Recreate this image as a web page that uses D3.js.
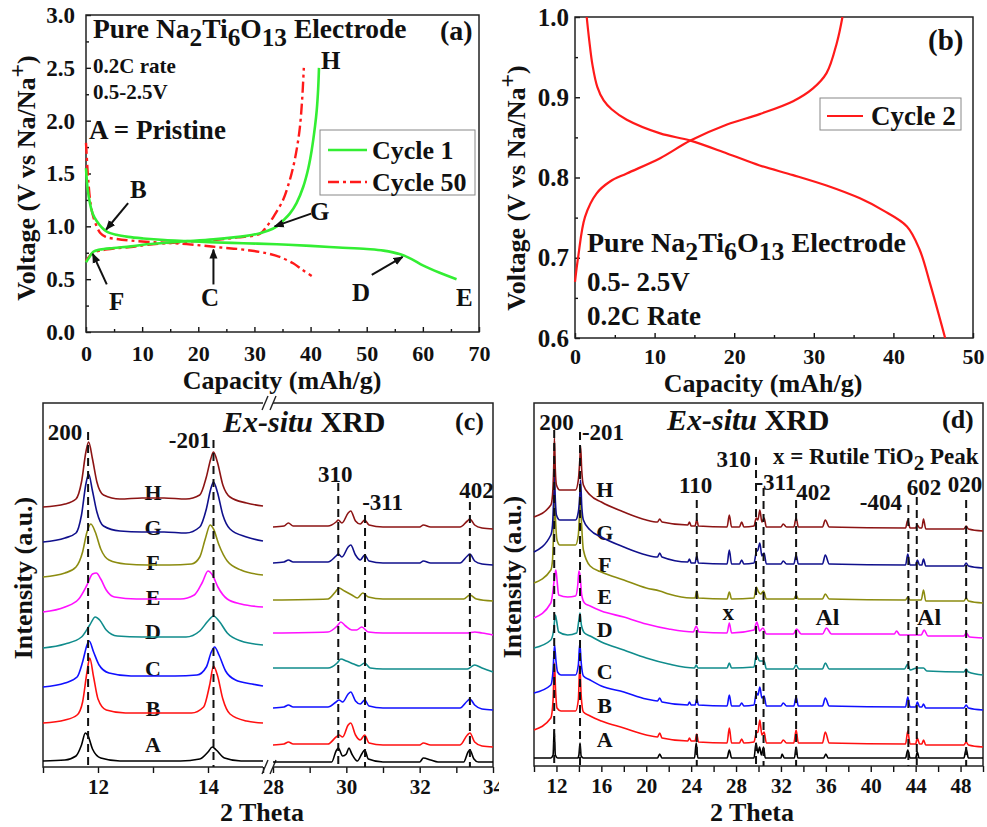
<!DOCTYPE html>
<html>
<head>
<meta charset="utf-8">
<script src="https://cdn.jsdelivr.net/npm/d3@7/dist/d3.min.js"></script>
<style>
  body { margin: 0; background: #fff; }
  svg text { font-family: "Liberation Serif", "Times New Roman", serif; font-weight: bold; fill: #111; }
</style>
</head>
<body>
<svg id="fig" width="987" height="827"></svg>
<script>
// ---------- panel (a): voltage profiles, [capacity mAh/g, voltage V] ----------
const cycle1Discharge = [[0,1.55],[0.3,1.35],[0.7,1.22],[1.2,1.12],[1.9,1.05],[2.8,0.99],[3.7,0.95],[5.4,0.92],[7.5,0.9],[10.2,0.885],[14,0.87],[18,0.86],[22,0.85],[28,0.84],[34,0.83],[40,0.815],[45,0.8],[50,0.785],[53,0.77],[56,0.735],[58,0.69],[60,0.63],[63,0.56],[66,0.5]];
const cycle1Charge = [[0,0.66],[0.5,0.7],[1.3,0.76],[2.5,0.78],[4.9,0.795],[8,0.81],[10.8,0.83],[16.7,0.855],[22.7,0.877],[28.6,0.91],[31,0.935],[32.5,0.96],[34,1.0],[35.2,1.06],[36.3,1.12],[37.5,1.22],[38.7,1.375],[39.6,1.55],[40.2,1.72],[40.8,1.95],[41.1,2.1],[41.35,2.3],[41.5,2.5]];
const cycle50Discharge = [[0,1.79],[0.2,1.6],[0.4,1.44],[0.8,1.22],[1.3,1.09],[1.9,1.0],[2.5,0.94],[3.5,0.9],[5.5,0.88],[8,0.865],[12,0.85],[16,0.84],[20.3,0.82],[24,0.8],[28,0.78],[32.2,0.745],[34.5,0.71],[36.9,0.65],[38.5,0.59],[40.2,0.53]];
const cycle50Charge = [[0,0.67],[0.5,0.71],[1.3,0.75],[2.5,0.77],[5,0.79],[8,0.805],[11,0.825],[16.7,0.85],[22.7,0.87],[27,0.895],[31,0.93],[32.2,1.0],[33.5,1.1],[35.1,1.25],[36.2,1.42],[36.9,1.56],[37.6,1.75],[38.1,1.94],[38.5,2.2],[38.8,2.5]];

// ---------- panel (b): cycle 2 ----------
const cycle2Discharge = [[1.47,1.0],[1.8,0.97],[2.2,0.94],[2.8,0.913],[3.6,0.896],[4.6,0.885],[6.5,0.872],[10.7,0.855],[14.5,0.846],[19.1,0.83],[23.2,0.815],[27.4,0.803],[31.6,0.79],[35.8,0.774],[38.7,0.759],[41.7,0.739],[43.3,0.71],[44.6,0.668],[46.5,0.6]];
const cycle2Charge = [[0,0.67],[0.4,0.701],[1.26,0.751],[2.7,0.78],[4.4,0.795],[6.5,0.805],[10.7,0.824],[14.5,0.846],[19.1,0.866],[23.2,0.879],[27.4,0.895],[29.9,0.911],[31.6,0.93],[32.9,0.968],[33.6,1.0]];

// ---------- panels (c),(d): ex-situ XRD, [2 theta, intensity a.u.], traces A..H ----------
const traceNames = ["A","B","C","D","E","F","G","H"];
const traceColors = ["#000000","#ff1010","#1010ff","#108c8c","#ff10ff","#8c8c10","#10108c","#8c1414"];

const xrdLowAngle = [
  [[11,6],[11.4,7],[11.6,11],[11.7,22],[11.77,34],[11.82,31],[11.9,18],[12.05,9],[12.4,6],[13.5,6],[13.85,8],[14.0,15],[14.08,20],[14.15,17],[14.3,9],[14.6,6],[15,6]],
  [[11,44],[11.4,47],[11.62,52],[11.72,65],[11.8,95],[11.85,109],[11.92,90],[12.0,68],[12.15,57],[12.5,54],[12.9,54],[13.3,54],[13.7,54],[13.92,60],[14.03,82],[14.1,101],[14.17,92],[14.27,68],[14.4,53],[14.7,46],[15,44]],
  [[11,80],[11.4,84],[11.62,90],[11.72,105],[11.8,122],[11.84,126],[11.92,115],[12.02,102],[12.2,94],[12.6,91],[13.0,91],[13.4,91],[13.8,92],[13.97,100],[14.06,115],[14.12,120],[14.2,112],[14.32,96],[14.5,87],[14.8,83],[15,81]],
  [[11,119],[11.4,123],[11.7,130],[11.85,142],[11.95,150],[12.03,147],[12.15,137],[12.35,131],[12.8,130],[13.2,130],[13.6,130],[13.85,136],[14.0,146],[14.1,151],[14.2,146],[14.35,134],[14.6,126],[15,122]],
  [[11,155],[11.4,160],[11.65,168],[11.8,182],[11.9,193],[11.97,194],[12.05,188],[12.15,177],[12.3,170],[12.7,168],[13.1,168],[13.5,168],[13.75,172],[13.9,185],[14.0,196],[14.08,192],[14.18,180],[14.35,168],[14.6,163],[15,160]],
  [[11,190],[11.4,194],[11.6,200],[11.72,215],[11.8,235],[11.87,243],[11.95,235],[12.05,218],[12.2,207],[12.5,203],[12.9,202],[13.3,202],[13.7,203],[13.85,210],[13.95,228],[14.04,242],[14.1,238],[14.2,222],[14.35,206],[14.6,197],[15,192]],
  [[11,225],[11.4,229],[11.6,234],[11.7,252],[11.78,283],[11.83,293],[11.9,276],[11.98,255],[12.1,241],[12.4,236],[12.8,235],[13.2,235],[13.6,234],[13.85,240],[13.97,258],[14.05,278],[14.1,285],[14.17,275],[14.27,252],[14.4,238],[14.7,230],[15,226]],
  [[11,260],[11.4,263],[11.6,268],[11.7,285],[11.78,315],[11.83,325],[11.9,308],[11.98,285],[12.1,272],[12.4,268],[12.8,269],[13.2,269],[13.6,268],[13.85,272],[13.97,290],[14.05,308],[14.1,315],[14.17,305],[14.27,282],[14.4,270],[14.7,264],[15,261]]
];
const xrdHighAngle = [
  [[28,5],[29.6,5],[29.72,16],[29.78,19],[29.9,11],[30.0,13],[30.07,19],[30.15,13],[30.3,6],[30.42,13],[30.5,17],[30.6,8],[31,5],[32.0,5],[32.1,9],[32.3,7],[32.5,5],[33.2,5],[33.32,15],[33.37,17],[33.48,8],[33.6,5],[34,5]],
  [[28,22],[28.3,23],[28.42,25],[28.55,23],[29.5,23],[29.72,30],[29.8,32],[29.9,30],[30.05,42],[30.12,44],[30.25,32],[30.38,27],[30.5,32],[30.62,24],[31,22],[32,22],[32.1,24],[32.3,22],[33.1,22],[33.3,32],[33.37,34],[33.5,25],[33.7,21],[34,20]],
  [[28,59],[28.3,60],[28.42,62],[28.55,60],[29.5,60],[29.72,65],[29.8,67],[29.9,65],[30.05,73],[30.12,75],[30.25,66],[30.38,63],[30.5,67],[30.62,61],[31,59],[33.1,59],[33.3,66],[33.37,68],[33.5,62],[33.7,58],[34,57]],
  [[28,99],[29.5,99],[29.75,104],[29.85,108],[30.0,106],[30.2,103],[30.35,101],[30.5,104],[30.65,99],[31,98],[33.3,98],[33.5,102],[33.7,99],[34,95]],
  [[28,134],[29.5,135],[29.75,141],[29.85,145],[29.98,141],[30.15,137],[30.28,137],[30.42,140],[30.6,135],[31,134],[33.3,134],[33.5,135],[33.7,134],[34,132]],
  [[28,167],[29.5,168],[29.7,175],[29.8,179],[29.95,176],[30.15,172],[30.3,169],[30.45,174],[30.6,170],[31,168],[33.2,168],[33.37,172],[33.55,168],[34,166]],
  [[28,204],[28.3,205],[28.42,207],[28.55,205],[29.5,205],[29.72,211],[29.78,213],[29.88,210],[30.05,220],[30.12,222],[30.25,212],[30.38,207],[30.5,212],[30.62,206],[31,204],[32,204],[32.1,206],[32.3,204],[33.1,204],[33.3,211],[33.37,213],[33.5,206],[33.7,203],[34,202]],
  [[28,240],[28.3,241],[28.42,244],[28.55,241],[29.5,241],[29.72,245],[29.78,247],[29.88,244],[30.05,254],[30.12,256],[30.25,246],[30.38,243],[30.5,247],[30.62,242],[31,240],[32,240],[32.1,242],[32.3,240],[33.1,240],[33.3,246],[33.37,248],[33.5,242],[33.7,239],[34,238]]
];
const xrdFull = [
  [[10,9],[11.5,9],[11.7,12],[11.8,37],[11.9,12],[12.1,9],[13.9,9],[14.0,12],[14.1,24],[14.2,11],[14.4,9],[21.0,9],[21.2,13],[21.4,9],[24.3,9],[24.45,24],[24.6,9],[27.2,9],[27.4,17],[27.6,9],[29.6,9],[29.78,24],[29.95,14],[30.1,20],[30.25,12],[30.45,20],[30.6,9],[32.0,9],[32.1,13],[32.3,9],[33.2,9],[33.35,20],[33.5,9],[35.8,9],[36.0,13],[36.2,9],[43.1,9],[43.3,17],[43.5,9],[44.0,9],[44.15,15],[44.3,9],[48.3,9],[48.5,18],[48.7,9],[50,9]],
  [[10,37],[11.5,49],[11.7,67],[11.82,104],[11.92,77],[12.05,59],[12.4,56],[13.0,56],[13.7,56],[13.95,67],[14.08,102],[14.2,72],[14.4,55],[15,51],[16,46],[18,39],[20,32],[21.0,30],[21.2,34],[21.4,29],[23.7,26],[23.85,29],[24.0,26],[24.35,26],[24.5,33],[24.65,25],[27.2,24],[27.4,39],[27.6,24],[28.3,24],[28.5,28],[28.7,24],[29.6,25],[29.8,34],[29.95,35],[30.12,47],[30.3,32],[30.5,35],[30.7,24],[32.0,24],[32.2,27],[32.5,24],[33.15,24],[33.35,37],[33.55,24],[35.7,24],[35.95,35],[36.3,24],[43.1,23],[43.3,36],[43.5,23],[44.0,23],[44.15,29],[44.35,23],[44.55,23],[44.7,27],[44.9,22],[48.3,22],[48.5,25],[48.7,22],[50,20]],
  [[10,74],[11.5,82],[11.7,97],[11.83,122],[11.95,107],[12.1,95],[12.4,92],[13.0,92],[13.7,92],[13.95,102],[14.08,124],[14.2,105],[14.4,91],[15,87],[16,81],[18,75],[20,68],[21.0,66],[21.2,69],[21.4,65],[23.7,62],[23.85,65],[24.0,62],[24.35,62],[24.5,68],[24.65,62],[27.2,61],[27.4,72],[27.6,61],[28.3,61],[28.5,64],[28.7,61],[29.6,62],[29.8,74],[29.95,72],[30.12,80],[30.3,69],[30.5,71],[30.7,61],[32.0,61],[32.2,64],[32.5,61],[33.15,61],[33.35,70],[33.55,61],[35.7,61],[35.95,69],[36.3,61],[43.1,60],[43.3,70],[43.5,60],[44.0,60],[44.15,65],[44.35,60],[44.55,60],[44.7,63],[44.9,59],[48.3,59],[48.5,62],[48.7,59],[50,57]],
  [[10,119],[11.5,127],[11.75,137],[11.9,152],[12.0,147],[12.2,135],[13.0,132],[13.8,134],[14.0,147],[14.1,154],[14.22,142],[14.5,134],[15,131],[16,125],[18,117],[20,109],[22,103],[24.3,99],[24.45,102],[24.6,99],[27.2,99],[27.4,104],[27.6,99],[29.6,100],[29.8,112],[30.1,106],[30.5,106],[30.7,98],[33.1,98],[33.35,102],[33.6,98],[35.7,98],[35.95,104],[36.3,98],[43.0,98],[43.3,103],[43.5,97],[44.1,99],[44.7,99],[45,96],[48.3,95],[48.5,98],[48.7,95],[50,92]],
  [[10,149],[11.5,164],[11.7,177],[11.85,192],[11.95,197],[12.05,187],[12.2,172],[13.0,170],[13.7,171],[13.9,182],[14.0,196],[14.1,192],[14.25,172],[14.5,164],[15,161],[16,156],[18,150],[20,143],[22,138],[24.2,135],[24.45,141],[24.7,135],[27.2,134],[27.4,144],[27.6,134],[29.6,137],[29.85,145],[30.1,136],[30.4,139],[30.7,133],[33.1,133],[33.4,138],[33.8,133],[35.7,133],[36.05,139],[36.5,133],[42.1,133],[42.3,136],[42.6,132],[44.5,132],[44.75,137],[45.1,131],[48.3,131],[48.5,134],[48.8,130],[50,129]],
  [[10,184],[11.5,197],[11.65,207],[11.75,237],[11.84,272],[11.92,247],[12.05,227],[12.3,222],[13.0,222],[13.7,222],[13.95,232],[14.05,252],[14.12,270],[14.22,247],[14.4,217],[15,201],[16,195],[18,187],[20,179],[21.2,176],[22,173],[24.0,169],[24.35,169],[24.5,176],[24.65,169],[27.2,168],[27.4,175],[27.6,168],[29.6,169],[29.8,180],[30.0,175],[30.2,173],[30.45,176],[30.7,168],[33.15,168],[33.35,172],[33.55,168],[35.7,168],[35.95,173],[36.3,168],[43.1,167],[43.3,170],[43.5,167],[44.5,167],[44.7,177],[44.9,166],[48.3,166],[48.5,169],[48.7,166],[50,164]],
  [[10,215],[11.5,232],[11.65,242],[11.75,267],[11.82,291],[11.9,267],[12.0,252],[12.3,247],[13.0,247],[13.7,247],[13.95,255],[14.08,272],[14.15,287],[14.25,262],[14.4,247],[15,237],[16,230],[18,220],[20,212],[21.0,210],[21.2,214],[21.4,210],[23.7,205],[23.85,208],[24.0,204],[24.35,204],[24.5,211],[24.65,204],[27.2,203],[27.4,217],[27.6,203],[28.3,203],[28.5,207],[28.7,203],[29.6,204],[29.8,215],[29.95,217],[30.12,224],[30.3,211],[30.5,214],[30.7,203],[32.0,203],[32.2,206],[32.5,203],[33.15,203],[33.35,212],[33.55,203],[35.7,203],[35.95,212],[36.3,203],[43.1,202],[43.3,213],[43.5,202],[44.0,202],[44.15,207],[44.35,202],[44.55,202],[44.7,208],[44.9,201],[48.3,201],[48.5,204],[48.7,201],[50,199]],
  [[10,250],[11.5,262],[11.65,272],[11.75,297],[11.82,329],[11.9,297],[12.0,282],[12.3,277],[13.0,277],[13.7,277],[13.95,287],[14.08,307],[14.15,321],[14.25,297],[14.4,282],[15,272],[16,265],[18,255],[20,247],[21.0,245],[21.2,248],[21.4,245],[23.7,242],[23.85,245],[24.0,241],[24.35,241],[24.5,247],[24.65,241],[27.2,240],[27.4,252],[27.6,240],[28.3,240],[28.5,245],[28.7,240],[29.6,241],[29.8,249],[29.95,247],[30.12,257],[30.3,245],[30.5,249],[30.7,240],[32.0,240],[32.2,243],[32.5,240],[33.15,240],[33.35,249],[33.55,240],[35.7,240],[35.95,247],[36.3,240],[43.1,239],[43.3,247],[43.5,239],[44.0,239],[44.15,242],[44.35,239],[44.55,239],[44.7,248],[44.9,238],[48.3,238],[48.5,241],[48.7,238],[50,236]]
];

// peak reference lines: [2theta, top of dashed line in a.u.]
const refLinesC = [[11.82,335],[14.1,327],[29.78,284],[30.51,252],[33.37,265]];
const refLinesD = [[11.8,337],[14.1,335],[24.5,267],[29.78,310],[30.45,279],[33.35,267],[43.35,262],[44.1,270],[48.5,267]];
// hkl labels: [text, 2theta, a.u.]
const hklC = [["200",11.4,327],["-201",13.67,319],["310",29.7,285],["-311",30.99,257],["402",33.55,269]];
const hklD = [["200",12.0,337],["-201",16.15,327],["110",24.4,274],["310",27.8,300],["-311",31.55,277],["402",34.9,267],["-404",40.9,257],["602",44.75,272],["020",48.4,275]];
// letter label heights (a.u.) for A..H
const letterLevelC = [15,51,91,128,162,197,232,267];
const letterLevelD = [20,54,88,130,163,195,227,270];

const fig = d3.select("#fig");
const defs = fig.append("defs");
defs.append("marker").attr("id", "arrow").attr("viewBox", "0 0 10 10")
  .attr("refX", 9).attr("refY", 5).attr("markerWidth", 5).attr("markerHeight", 5)
  .attr("orient", "auto").append("path").attr("d", "M0,1L10,5L0,9z").attr("fill", "#111");
defs.append("clipPath").attr("id", "clipC").append("rect")
  .attr("x", 0).attr("y", 395).attr("width", 499).attr("height", 432);

// text with subscripts / superscripts: parts = [[str, 0 normal | 1 sub | 2 sup]]
function richText(g, x, y, parts, size, anchor) {
  let t = g.append("text").attr("x", x).attr("y", y)
    .style("font-size", size + "px").attr("text-anchor", anchor || "start");
  let shift = 0;
  parts.forEach(p => {
    let target = p[1] === 1 ? size * 0.28 : (p[1] === 2 ? -size * 0.4 : 0);
    t.append("tspan").attr("dy", target - shift)
      .style("font-size", (p[1] === 0 ? size : size * 0.92) + "px")
      .text(p[0]);
    shift = target;
  });
  return t;
}

function label(g, x, y, str, size, anchor) {
  return g.append("text").attr("x", x).attr("y", y).style("font-size", size + "px")
    .attr("text-anchor", anchor || "start").text(str);
}

function styleAxis(g, size) {
  g.select(".domain").remove();
  g.selectAll("line").attr("stroke", "#111").attr("stroke-width", 1.4);
  g.selectAll("text").style("font-size", size + "px").attr("fill", "#111");
}

function frame(g, x0, y0, x1, y1) {
  g.append("rect").attr("x", x0).attr("y", y0).attr("width", x1 - x0).attr("height", y1 - y0)
    .attr("fill", "none").attr("stroke", "#222").attr("stroke-width", 1.5);
}

const sodiumTitle = [["Pure Na",0],["2",1],["Ti",0],["6",1],["O",0],["13",1],[" Electrode",0]];
const voltLabel = [["Voltage (V vs Na/Na",0],["+",2],[")",0]];

// ================= panel (a) =================
let ga = fig.append("g");
let xa = d3.scaleLinear().domain([0, 70]).range([86, 479]);
let ya = d3.scaleLinear().domain([0, 3]).range([332, 15]);

ga.append("g").attr("transform", "translate(0,332)")
  .call(d3.axisBottom(xa).tickValues(d3.range(0, 71, 10)).tickSizeInner(-5).tickSizeOuter(0).tickPadding(13))
  .call(g => styleAxis(g, 22));
ga.append("g").attr("transform", "translate(0,332)")
  .call(d3.axisBottom(xa).tickValues(d3.range(5, 70, 10)).tickFormat("").tickSizeInner(-3).tickSizeOuter(0))
  .call(g => styleAxis(g, 22));
ga.append("g").attr("transform", "translate(86,0)")
  .call(d3.axisLeft(ya).tickValues(d3.range(0, 3.01, 0.5)).tickFormat(d3.format(".1f")).tickSizeInner(-5).tickSizeOuter(0).tickPadding(11))
  .call(g => styleAxis(g, 23));
ga.append("g").attr("transform", "translate(86,0)")
  .call(d3.axisLeft(ya).tickValues(d3.range(0.25, 3, 0.5)).tickFormat("").tickSizeInner(-3).tickSizeOuter(0))
  .call(g => styleAxis(g, 23));
frame(ga, 86, 15, 479, 332);

let lineA = d3.line().x(d => xa(d[0])).y(d => ya(d[1])).curve(d3.curveCatmullRom);
const dashDot = "11,4,3,4";
[cycle50Discharge, cycle50Charge].forEach(s => {
  ga.append("path").datum(s).attr("d", lineA).attr("fill", "none")
    .attr("stroke", "#ff1a1a").attr("stroke-width", 2.4).attr("stroke-dasharray", dashDot);
});
[cycle1Discharge, cycle1Charge].forEach(s => {
  ga.append("path").datum(s).attr("d", lineA).attr("fill", "none")
    .attr("stroke", "#33ee33").attr("stroke-width", 2.6);
});

richText(ga, 93, 38, sodiumTitle, 27.5);
label(ga, 440, 40, "(a)", 28);
label(ga, 93, 73, "0.2C rate", 21);
label(ga, 93, 99, "0.5-2.5V", 21);
label(ga, 89, 139, "A = Pristine", 27);
label(ga, 321, 69, "H", 25);
label(ga, 130, 198, "B", 25);
label(ga, 310, 220, "G", 25);
label(ga, 109, 310, "F", 25);
label(ga, 201, 306, "C", 25);
label(ga, 352, 301, "D", 25);
label(ga, 456, 306, "E", 25);

// arrows to charge states, [from, to] in data units
const stateArrows = [[[7.5,1.22],[3.6,0.97]],[[40.1,1.12],[33.6,1.0]],[[3.7,0.45],[1.2,0.74]],[[22.7,0.45],[22.7,0.78]],[[50.9,0.54],[56.4,0.71]]];
stateArrows.forEach(a => {
  ga.append("line").attr("x1", xa(a[0][0])).attr("y1", ya(a[0][1]))
    .attr("x2", xa(a[1][0])).attr("y2", ya(a[1][1]))
    .attr("stroke", "#111").attr("stroke-width", 2).attr("marker-end", "url(#arrow)");
});

// legend (a)
ga.append("rect").attr("x", 320).attr("y", 130).attr("width", 155).attr("height", 65)
  .attr("fill", "#fff").attr("stroke", "#888").attr("stroke-width", 1);
ga.append("line").attr("x1", 328).attr("x2", 367).attr("y1", 150).attr("y2", 150)
  .attr("stroke", "#33ee33").attr("stroke-width", 2.6);
ga.append("line").attr("x1", 328).attr("x2", 367).attr("y1", 182).attr("y2", 182)
  .attr("stroke", "#ff1a1a").attr("stroke-width", 2.4).attr("stroke-dasharray", dashDot);
label(ga, 372, 159, "Cycle 1", 26);
label(ga, 372, 191, "Cycle 50", 26);

label(ga, 282, 389, "Capacity (mAh/g)", 26, "middle");
richText(ga.append("g").attr("transform", "translate(35,178) rotate(-90)"), 0, 0, voltLabel, 26, "middle");

// ================= panel (b) =================
let gb = fig.append("g");
let xb = d3.scaleLinear().domain([0, 50]).range([575, 973]);
let yb = d3.scaleLinear().domain([0.6, 1.0]).range([338, 17]);

gb.append("g").attr("transform", "translate(0,338)")
  .call(d3.axisBottom(xb).tickValues(d3.range(0, 51, 10)).tickSizeInner(-5).tickSizeOuter(0).tickPadding(10))
  .call(g => styleAxis(g, 22));
gb.append("g").attr("transform", "translate(0,338)")
  .call(d3.axisBottom(xb).tickValues(d3.range(5, 50, 10)).tickFormat("").tickSizeInner(-3).tickSizeOuter(0))
  .call(g => styleAxis(g, 22));
gb.append("g").attr("transform", "translate(575,0)")
  .call(d3.axisLeft(yb).tickValues([0.6, 0.7, 0.8, 0.9, 1.0]).tickFormat(d3.format(".1f")).tickSizeInner(-5).tickSizeOuter(0).tickPadding(6))
  .call(g => styleAxis(g, 25));
gb.append("g").attr("transform", "translate(575,0)")
  .call(d3.axisLeft(yb).tickValues([0.65, 0.75, 0.85, 0.95]).tickFormat("").tickSizeInner(-3).tickSizeOuter(0))
  .call(g => styleAxis(g, 23));
frame(gb, 575, 17, 973, 338);

let lineB = d3.line().x(d => xb(d[0])).y(d => yb(d[1])).curve(d3.curveCatmullRom);
[cycle2Discharge, cycle2Charge].forEach(s => {
  gb.append("path").datum(s).attr("d", lineB).attr("fill", "none")
    .attr("stroke", "#ff1a1a").attr("stroke-width", 2.2);
});

label(gb, 928, 50, "(b)", 29);
richText(gb, 587, 252, sodiumTitle, 28);
label(gb, 587, 291, "0.5- 2.5V", 27);
label(gb, 587, 325, "0.2C Rate", 27);

gb.append("rect").attr("x", 820).attr("y", 98).attr("width", 141).attr("height", 32)
  .attr("fill", "#fff").attr("stroke", "#888").attr("stroke-width", 1);
gb.append("line").attr("x1", 827).attr("x2", 863).attr("y1", 116).attr("y2", 116)
  .attr("stroke", "#ff1a1a").attr("stroke-width", 2.2);
label(gb, 871, 125, "Cycle 2", 27);

label(gb, 763, 392, "Capacity (mAh/g)", 26, "middle");
richText(gb.append("g").attr("transform", "translate(525,188) rotate(-90)"), 0, 0, voltLabel, 26, "middle");

// ================= panel (c) =================
let gc = fig.append("g").attr("clip-path", "url(#clipC)");
let xcLow = d3.scaleLinear().domain([11, 15]).range([43, 263]);
let xcHigh = d3.scaleLinear().domain([28, 34]).range([273, 493]);
let yc = d3.scaleLinear().domain([0, 364]).range([767, 403]);

gc.append("g").attr("transform", "translate(0,767)")
  .call(d3.axisBottom(xcLow).tickValues([11, 12, 13, 14, 15]).tickFormat(d => d % 2 === 0 ? d : "").tickSize(6).tickPadding(6))
  .call(g => styleAxis(g, 21));
gc.append("g").attr("transform", "translate(0,767)")
  .call(d3.axisBottom(xcHigh).tickValues(d3.range(28, 35)).tickFormat(d => d % 2 === 0 ? d : "").tickSize(6).tickPadding(6))
  .call(g => styleAxis(g, 21));

gc.append("path").attr("d", "M263,403H43V767H263M273,403H493V767H273")
  .attr("fill", "none").attr("stroke", "#222").attr("stroke-width", 1.5);
[403, 767].forEach(yy => {
  [262, 270].forEach(xx => {
    gc.append("line").attr("x1", xx).attr("y1", yy + 7).attr("x2", xx + 6).attr("y2", yy - 7)
      .attr("stroke", "#222").attr("stroke-width", 1.4);
  });
});

// letter labels behind traces
traceNames.forEach((n, i) => {
  label(gc, xcLow(13), yc(letterLevelC[i]), n, 22, "middle");
});

let lineCLow = d3.line().x(d => xcLow(d[0])).y(d => yc(d[1])).curve(d3.curveMonotoneX);
let lineCHigh = d3.line().x(d => xcHigh(d[0])).y(d => yc(d[1])).curve(d3.curveMonotoneX);
xrdLowAngle.forEach((s, i) => {
  gc.append("path").datum(s).attr("d", lineCLow).attr("fill", "none")
    .attr("stroke", traceColors[i]).attr("stroke-width", 1.6);
});
xrdHighAngle.forEach((s, i) => {
  gc.append("path").datum(s).attr("d", lineCHigh).attr("fill", "none")
    .attr("stroke", traceColors[i]).attr("stroke-width", 1.6);
});

refLinesC.forEach(r => {
  let xs = r[0] < 20 ? xcLow(r[0]) : xcHigh(r[0]);
  gc.append("line").attr("x1", xs).attr("x2", xs).attr("y1", yc(r[1])).attr("y2", yc(0))
    .attr("stroke", "#111").attr("stroke-width", 2).attr("stroke-dasharray", "8,5");
});
hklC.forEach(h => {
  let xs = h[1] < 20 ? xcLow(h[1]) : xcHigh(h[1]);
  label(gc, xs, yc(h[2]), h[0], 23, "middle");
});

let exC = gc.append("text").attr("x", 223).attr("y", 432).style("font-size", "30px");
exC.append("tspan").style("font-style", "italic").text("Ex-situ");
exC.append("tspan").text(" XRD");
label(gc, 455, 430, "(c)", 26);
label(gc, 262, 821, "2 Theta", 26, "middle");
label(gc.append("g").attr("transform", "translate(32,578) rotate(-90)"), 0, 0, "Intensity (a.u.)", 26, "middle");

// ================= panel (d) =================
let gd = fig.append("g");
let xd = d3.scaleLinear().domain([10, 50]).range([534, 983]);
let yd = d3.scaleLinear().domain([0, 364]).range([767, 403]);

gd.append("g").attr("transform", "translate(0,766)")
  .call(d3.axisBottom(xd).tickValues(d3.range(10, 51, 2)).tickFormat(d => (d - 12) % 4 === 0 ? d : "").tickSize(6).tickPadding(6))
  .call(g => styleAxis(g, 21));
frame(gd, 534, 403, 983, 766);

traceNames.forEach((n, i) => {
  label(gd, xd(16.3), yd(letterLevelD[i]), n, 22, "middle");
});

let lineD = d3.line().x(d => xd(d[0])).y(d => yd(d[1])).curve(d3.curveMonotoneX);
xrdFull.forEach((s, i) => {
  gd.append("path").datum(s).attr("d", lineD).attr("fill", "none")
    .attr("stroke", traceColors[i]).attr("stroke-width", 1.6);
});

refLinesD.forEach(r => {
  gd.append("line").attr("x1", xd(r[0])).attr("x2", xd(r[0])).attr("y1", yd(r[1])).attr("y2", yd(1))
    .attr("stroke", "#111").attr("stroke-width", 2).attr("stroke-dasharray", "8,5");
});
hklD.forEach(h => label(gd, xd(h[1]), yd(h[2]), h[0], 23, "middle"));

label(gd, xd(27.3), yd(147), "x", 23, "middle");
label(gd, xd(36.15), yd(142), "Al", 24, "middle");
label(gd, xd(45.2), yd(142), "Al", 24, "middle");
richText(gd, 773, 464, [["x = Rutile TiO",0],["2",1],[" Peak",0]], 23);

let exD = gd.append("text").attr("x", 667).attr("y", 430).style("font-size", "30px");
exD.append("tspan").style("font-style", "italic").text("Ex-situ");
exD.append("tspan").text(" XRD");
label(gd, 942, 428, "(d)", 26);
label(gd, 752, 821, "2 Theta", 26, "middle");
label(gd.append("g").attr("transform", "translate(521,577) rotate(-90)"), 0, 0, "Intensity (a.u.)", 26, "middle");
</script>
</body>
</html>
